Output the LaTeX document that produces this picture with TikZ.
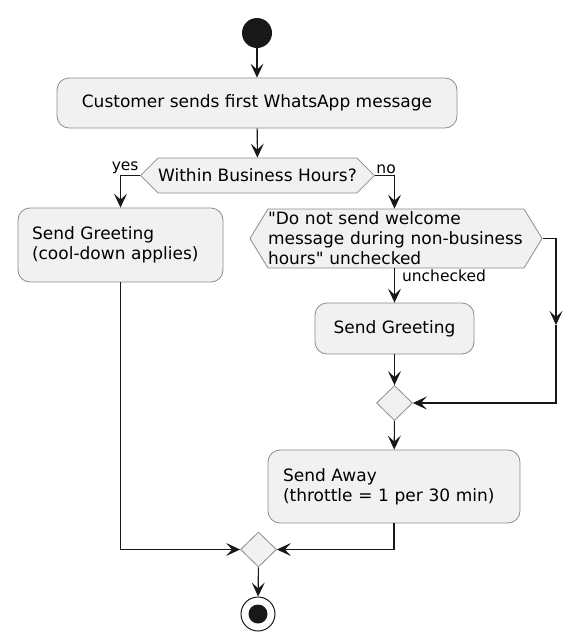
\documentclass[tikz,border=0pt]{standalone}
\usepackage{fontspec}
\setmainfont{DejaVu Sans}
\usetikzlibrary{arrows.meta,shapes.geometric,shapes.symbols}

\definecolor{boxfill}{HTML}{F1F1F1}
\definecolor{boxline}{HTML}{8C8C8C}
\definecolor{flowline}{HTML}{181818}

\newcommand{\actfont}{\fontsize{17}{20}\selectfont}
\newcommand{\lblfont}{\fontsize{15.5}{18}\selectfont}

\begin{document}
\begin{tikzpicture}[x=1pt, y=-1pt,
  action/.style={rectangle, draw=boxline, fill=boxfill, line width=0.8pt,
    rounded corners=12pt, inner sep=0pt, font=\actfont},
  choice/.style={signal, signal to=east and west, draw=boxline, fill=boxfill,
    line width=0.8pt, inner sep=0pt, font=\actfont},
  merge/.style={diamond, draw=boxline, fill=boxfill, line width=0.8pt,
    minimum width=36pt, minimum height=35pt, inner sep=0pt},
  flow/.style={draw=flowline, line width=1.1pt,
    -{Stealth[length=14pt, width=13pt, inset=6pt]}},
  guard/.style={font=\lblfont, inner sep=1pt}]
  \useasboundingbox (0,0) rectangle (585,635);

  % Start and first action
  \node[circle, fill=flowline, minimum size=30pt, inner sep=0pt] (start) at (257,33) {};
  \node[action, minimum width=400pt, minimum height=50pt] (recv) at (257,103)
    {Customer sends first WhatsApp message};

  % Business hours check
  \node[choice, minimum width=229pt, minimum height=35pt, signal pointer angle=90]
    (hours) at (257.5,175.5) {Within Business Hours?};

  % Yes branch
  \node[action, minimum height=74pt, text width=177pt, inner xsep=14pt, align=left]
    (greetA) at (120.5,245) {Send Greeting\\(cool-down applies)};

  % No branch
  \node[choice, minimum height=59pt, signal pointer angle=117, text width=256pt, align=left]
    (optout) at (396,238.5)
    {\textquotedbl Do not send welcome\\message during non-business\\hours\textquotedbl{} unchecked};
  \node[action, minimum width=159pt, minimum height=51pt] (greetB) at (394.5,328.5) {Send Greeting};
  \node[merge] (joinA) at (394.5,403) {};
  \node[action, minimum height=73pt, text width=222pt, inner xsep=15pt, align=left]
    (away) at (394,486.5) {Send Away\\(throttle = 1 per 30 min)};
  \coordinate (bypass) at (556,325);

  % Final merge and end
  \node[merge] (joinB) at (258.5,549.5) {};
  \node[circle, draw=flowline, line width=1pt, fill=white, minimum size=34pt, inner sep=0pt]
    (stop) at (258,614) {};
  \node[circle, fill=flowline, minimum size=19pt, inner sep=0pt] (stopdot) at (stop) {};

  % Connectors
  \draw[flow] (start) -- (recv);
  \draw[flow] (recv) -- (hours);
  \draw[flow] (hours.west) -| (greetA.north) node[pos=0, guard, above left] {yes};
  \draw[flow] (hours.east) -| (greetB.north |- optout.north) node[pos=0, guard, above right] {no};
  \draw[flow] (greetB.north |- optout.south) -- (greetB.north)
    node[pos=0, guard, anchor=north west, xshift=6pt] {unchecked};
  \draw[flow] (optout.east) -| (bypass);
  \draw[flow] (bypass) |- (joinA.east);
  \draw[flow] (greetB) -- (joinA);
  \draw[flow] (joinA) -- (away);
  \draw[flow] (greetA.south) |- (joinB.west);
  \draw[flow] (away.south) |- (joinB.east);
  \draw[flow] (joinB) -- (stop);
\end{tikzpicture}
\end{document}
